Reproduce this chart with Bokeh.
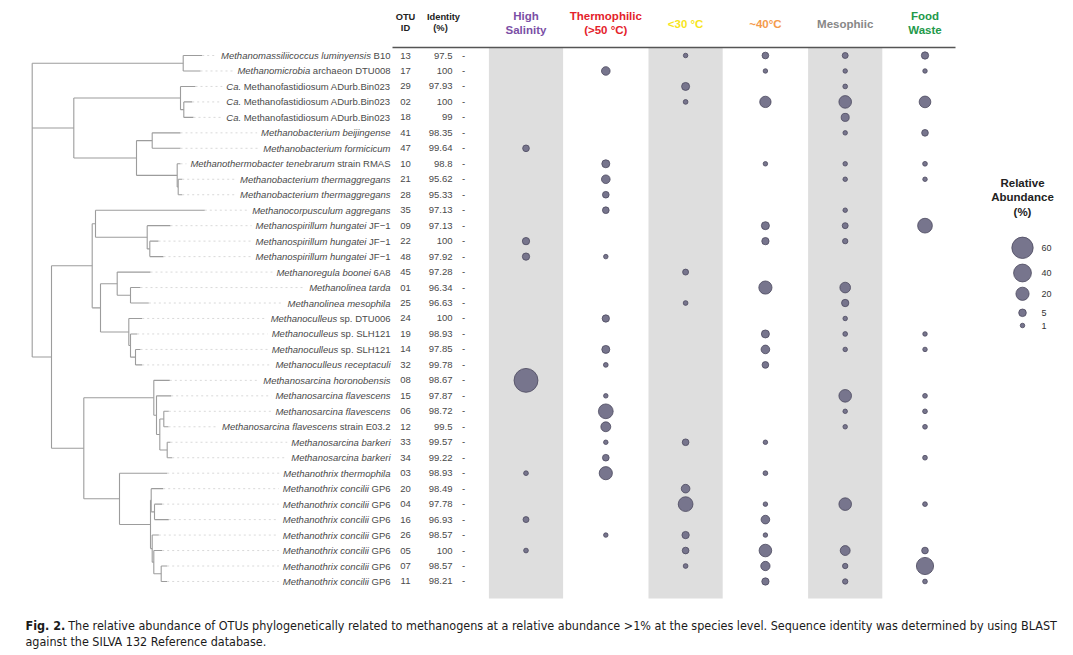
import math
from bokeh.plotting import figure
from bokeh.models import Range1d
from bokeh.core.properties import value
from bokeh.embed import file_html
from bokeh.resources import INLINE

# ---------------- data ----------------
taxon_italic = [
    "Methanomassiliicoccus luminyensis", "Methanomicrobia", "Ca.", "Ca.", "Ca.",
    "Methanobacterium beijingense", "Methanobacterium formicicum", "Methanothermobacter tenebrarum",
    "Methanobacterium thermaggregans", "Methanobacterium thermaggregans", "Methanocorpusculum aggregans",
    "Methanospirillum hungatei", "Methanospirillum hungatei", "Methanospirillum hungatei",
    "Methanoregula boonei", "Methanolinea tarda", "Methanolinea mesophila", "Methanoculleus",
    "Methanoculleus", "Methanoculleus", "Methanoculleus receptaculi", "Methanosarcina horonobensis",
    "Methanosarcina flavescens", "Methanosarcina flavescens", "Methanosarcina flavescens",
    "Methanosarcina barkeri", "Methanosarcina barkeri", "Methanothrix thermophila",
    "Methanothrix concilii", "Methanothrix concilii", "Methanothrix concilii", "Methanothrix concilii",
    "Methanothrix concilii", "Methanothrix concilii", "Methanothrix concilii"]
taxon_suffix = [
    "B10", "archaeon DTU008", "Methanofastidiosum ADurb.Bin023", "Methanofastidiosum ADurb.Bin023",
    "Methanofastidiosum ADurb.Bin023", "", "", "strain RMAS", "", "", "", "JF\u22121", "JF\u22121", "JF\u22121",
    "6A8", "", "", "sp. DTU006", "sp. SLH121", "sp. SLH121", "", "", "", "", "strain E03.2", "", "", "",
    "GP6", "GP6", "GP6", "GP6", "GP6", "GP6", "GP6"]
otu_ids = ["13", "17", "29", "02", "18", "41", "47", "10", "21", "28", "35", "09", "22", "48", "45", "01",
           "25", "24", "19", "14", "32", "08", "15", "06", "12", "33", "34", "03", "20", "04", "16", "26",
           "05", "07", "11"]
identity = ["97.5", "100", "97.93", "100", "99", "98.35", "99.64", "98.8", "95.62", "95.33", "97.13",
            "97.13", "100", "97.92", "97.28", "96.34", "96.63", "100", "98.93", "97.85", "99.78", "98.67",
            "97.87", "98.72", "99.5", "99.57", "99.22", "98.93", "98.49", "97.78", "96.93", "98.57", "100",
            "98.57", "98.21"]

condition_lines = [["High", "Salinity"], ["Thermophilic", "(>50 \u00b0C)"], ["<30 \u00b0C"], ["~40\u00b0C"],
                   ["Mesophiic"], ["Food", "Waste"]]

# relative abundance (%) per OTU row, 0 = not detected
abund_high_salinity = [0, 0, 0, 0, 0, 0, 3.5, 0, 0, 0, 0, 0, 4.5, 4.5, 0, 0, 0, 0, 0, 0, 0, 77,
                       0, 0, 0, 0, 0, 1.2, 0, 0, 2.5, 0, 1.2, 0, 0]
abund_thermophilic = [0, 7, 0, 0, 0, 0, 0, 5.8, 7, 3.5, 3.5, 0, 0, 1, 0, 0, 0, 4.5, 0, 5.8, 1.2, 0,
                      1, 26, 10, 1, 3.5, 20, 0, 0, 0, 1, 0, 0, 0]
abund_below30 = [1, 0, 5.8, 1.2, 0, 0, 0, 0, 0, 0, 0, 0, 0, 0, 2.5, 0, 1.2, 0, 0, 0, 0, 0,
                 0, 0, 0, 3.5, 0, 0, 7, 26, 0, 4.5, 3.5, 1.2, 0]
abund_around40 = [3.5, 1, 0, 14, 0, 0, 0, 1, 0, 0, 0, 5.8, 4.5, 0, 0, 20, 0, 0, 5.8, 7, 3.5, 0,
                  0, 0, 0, 1, 0, 1.2, 0, 1, 7, 1, 18, 8.5, 4.5]
abund_mesophilic = [2.5, 1, 1.2, 18, 5.8, 1, 0, 1, 1, 0, 1, 2.5, 1.8, 0, 0, 12, 4.5, 1, 1.2, 1, 0, 0,
                    18, 1, 1, 0, 0, 0, 0, 18, 0, 0, 10, 1.8, 1.8]
abund_food_waste = [4.5, 1, 0, 15, 0, 3.5, 0, 1.2, 1, 0, 0, 26, 0, 0, 0, 0, 0, 0, 1, 1, 0, 0,
                    1.2, 1.2, 1.2, 0, 1.2, 0, 0, 1.2, 0, 0, 3.5, 37, 1.2]
abundance_table = [abund_high_salinity, abund_thermophilic, abund_below30, abund_around40,
                   abund_mesophilic, abund_food_waste]

legend_values = [60, 40, 20, 5, 1]

# dendrogram: branch tip depth of each leaf, and internal nodes (depth, children)
leaf_tip = [201.7, 200, 195, 191.7, 193, 180, 180, 180, 181.7, 181.7, 204.3, 170, 158, 163, 150, 140,
            148.3, 141.7, 136.7, 140, 141.7, 169.3, 170.7, 168.3, 168, 170, 171.7, 166.7, 162.7, 161.7,
            168.3, 158.3, 161.7, 166.7, 166.7]
node_names = ["root", "A", "B", "B1", "B1a", "B2", "B2a", "B2b", "B2c", "C", "C1", "C1a", "C1a1", "C1a2",
              "C1b", "C1b1", "C1b1a", "C1b2", "C1b2a", "C1b2b", "C2", "C2a", "C2a1", "C2a2", "C2a3", "C2a4",
              "C2b", "C2b1", "Q", "Q1", "R", "R1", "R2"]
node_depth = [31.7, 182.7, 73.3, 180, 183.3, 136, 151.7, 176.7, 177.7, 51, 91.7, 95, 146.7, 149.3, 100,
              116.7, 130, 128.3, 130, 135, 83.3, 153.3, 156, 159.3, 163.3, 166.7, 119, 150, 150.7, 154,
              151.7, 153.3, 160.7]
node_children = [["A", "B", "C"], [0, 1], ["B1", "B2"], [2, "B1a"], [3, 4], ["B2a", "B2b"], [5, 6],
                 [7, "B2c"], [8, 9], ["C1", "C2"], ["C1a", "C1b"], [10, "C1a1"], [11, "C1a2"], [12, 13],
                 ["C1b1", "C1b2"], [14, "C1b1a"], [15, 16], [17, "C1b2a"], [18, "C1b2b"], [19, 20],
                 ["C2a", "C2b"], [21, "C2a1"], [22, "C2a2"], ["C2a3", "C2a4"], [23, 24], [25, 26],
                 [27, "C2b1"], ["Q", "R"], [28, "Q1"], [29, 30], [31, "R1"], [32, "R2"], [33, 34]]

caption_bold = "Fig. 2."
caption_line1 = ("The relative abundance of OTUs phylogenetically related to methanogens at a relative "
                 "abundance >1% at the species level. Sequence identity was determined by using BLAST")
caption_line2 = "against the SILVA 132 Reference database."

# ---------------- helpers ----------------
W = {' ': 278, '.': 278, '-': 333, '\u2212': 584, ',': 278, '%': 889, '>': 584, '(': 333, ')': 333,
     'A': 667, 'B': 667, 'C': 722, 'D': 722, 'E': 667, 'F': 611, 'G': 778, 'H': 722, 'I': 278, 'J': 500,
     'K': 667, 'L': 556, 'M': 833, 'N': 722, 'O': 778, 'P': 667, 'Q': 778, 'R': 722, 'S': 667, 'T': 611,
     'U': 722, 'V': 667, 'W': 944, 'X': 667, 'Y': 667, 'Z': 611,
     'a': 556, 'b': 556, 'c': 500, 'd': 556, 'e': 556, 'f': 278, 'g': 556, 'h': 556, 'i': 222, 'j': 222,
     'k': 500, 'l': 222, 'm': 833, 'n': 556, 'o': 556, 'p': 556, 'q': 556, 'r': 333, 's': 500, 't': 278,
     'u': 556, 'v': 500, 'w': 722, 'x': 500, 'y': 500, 'z': 500}


def text_w(s, fs):
    return sum(W.get(c, 556) for c in s) * fs / 1000.0


n_rows = len(otu_ids)
FIG_W, FIG_H = 1073, 655
ROW0_PX, ROW_STEP = 55.0, 15.47
COL0_PX, COL_STEP = 525.5, 79.8

p = figure(width=FIG_W, height=FIG_H, output_backend="svg", toolbar_location=None,
           x_range=Range1d(0, FIG_W),
           y_range=Range1d((FIG_H - ROW0_PX) / ROW_STEP, (0 - ROW0_PX) / ROW_STEP),
           x_axis_location=None, y_axis_location=None, min_border=0)
p.grid.visible = False
p.outline_line_color = None
p.background_fill_color = "white"
p.extra_x_ranges = {"cond": Range1d((0 - COL0_PX) / COL_STEP, (FIG_W - COL0_PX) / COL_STEP)}
p.extra_y_ranges = {"px": Range1d(FIG_H, 0)}

FONT = value("Liberation Sans")
LABEL_FS = 9.5
label_color = "#4a4a4a"

# grey background bands for alternate conditions
band_idx = [i for i in range(len(condition_lines)) if i % 2 == 0]
p.quad(left=[i - 0.465 for i in band_idx], right=[i + 0.465 for i in band_idx],
       top=[47] * len(band_idx), bottom=[598] * len(band_idx),
       x_range_name="cond", y_range_name="px", fill_color="#dedede", line_color=None)

# ---- dendrogram ----
idx = {n: k for k, n in enumerate(node_names)}
node_y = {}


def y_of(c):
    if isinstance(c, int):
        return float(c)
    if c in node_y:
        return node_y[c]
    ys = [y_of(ch) for ch in node_children[idx[c]]]
    node_y[c] = (ys[0] + ys[-1]) / 2.0
    return node_y[c]


x0s, y0s, x1s, y1s = [], [], [], []
for n in node_names:
    k = idx[n]
    ch = node_children[k]
    ys = [y_of(c) for c in ch]
    x0s.append(node_depth[k]); y0s.append(min(ys)); x1s.append(node_depth[k]); y1s.append(max(ys))
    for c, yy in zip(ch, ys):
        end = leaf_tip[c] if isinstance(c, int) else node_depth[idx[c]]
        x0s.append(node_depth[k]); y0s.append(yy); x1s.append(end); y1s.append(yy)
p.segment(x0s, y0s, x1s, y1s, line_color="#9c9c9c", line_width=1.1)

# ---- labels ----
LABEL_RIGHT = 390
it_x, dot_x1 = [], []
for it, sf in zip(taxon_italic, taxon_suffix):
    it_x.append(LABEL_RIGHT - text_w(" " + sf, LABEL_FS) if sf else LABEL_RIGHT)
    full = it + (" " + sf if sf else "")
    dot_x1.append(LABEL_RIGHT - text_w(full, LABEL_FS) - 4)
rows = list(range(n_rows))
p.segment(leaf_tip, rows, dot_x1, rows, line_color="#cfcfcf", line_width=0.8, line_dash="2 3")

p.text(it_x, rows, taxon_italic, text_align="right", text_baseline="middle", text_font=FONT,
       text_font_size=f"{LABEL_FS}px", text_font_style="italic", text_color=label_color)
suf_rows = [r for r in rows if taxon_suffix[r]]
p.text([LABEL_RIGHT] * len(suf_rows), suf_rows, [taxon_suffix[r] for r in suf_rows], text_align="right",
       text_baseline="middle", text_font=FONT, text_font_size=f"{LABEL_FS}px", text_color=label_color)
p.text([405] * n_rows, rows, otu_ids, text_align="center", text_baseline="middle", text_font=FONT,
       text_font_size=f"{LABEL_FS}px", text_color=label_color)
p.text([452] * n_rows, rows, identity, text_align="right", text_baseline="middle", text_font=FONT,
       text_font_size=f"{LABEL_FS}px", text_color=label_color)
p.text([463] * n_rows, rows, ["-"] * n_rows, text_align="center", text_baseline="middle", text_font=FONT,
       text_font_size=f"{LABEL_FS}px", text_color="#333333")

# ---- headers ----
p.segment([392], [47], [955], [47], y_range_name="px", line_color="#555555", line_width=1.5)
p.text([405, 405], [16, 27.5], ["OTU", "ID"], y_range_name="px", text_align="center",
       text_baseline="middle", text_font=FONT, text_font_size="9.3px", text_font_style="bold",
       text_color="#222222")
p.text([443, 440], [16, 27.5], ["Identity", "(%)"], y_range_name="px", text_align="center",
       text_baseline="middle", text_font=FONT, text_font_size="9.3px", text_font_style="bold",
       text_color="#222222")

head_colors = ["#7b4fa6", "#e4222b", "#f7e51b", "#f49a4c", "#878787", "#23994a"]
hx, hy, ht, hc = [], [], [], []
for i, lines in enumerate(condition_lines):
    ys = [23.3] if len(lines) == 1 else [15.3, 29.3]
    for t, yy in zip(lines, ys):
        hx.append(i); hy.append(yy); ht.append(t); hc.append(head_colors[i])
p.text(hx, hy, ht, x_range_name="cond", y_range_name="px", text_align="center", text_baseline="middle",
       text_font=FONT, text_font_size="11.5px", text_font_style="bold", text_color=hc)

# ---- bubbles ----
def bubble_d(v):
    return 2.0 + 2.5 * math.sqrt(v)


bx, by, bs = [], [], []
for i, col in enumerate(abundance_table):
    for r, v in enumerate(col):
        if v > 0:
            bx.append(i); by.append(r); bs.append(bubble_d(v))
p.scatter(bx, by, size=bs, x_range_name="cond", fill_color="#77758d", line_color="#4b495e",
          line_width=0.8)

# ---- legend ----
p.text([1022] * 3, [182, 196.5, 211], ["Relative", "Abundance", "(%)"], y_range_name="px",
       text_align="center", text_baseline="middle", text_font=FONT, text_font_size="11.5px",
       text_font_style="bold", text_color="#222222")
leg_y = [247.3, 272.5, 293.3, 312.3, 325]
p.scatter([1022] * len(legend_values), leg_y, size=[bubble_d(v) for v in legend_values],
          y_range_name="px", fill_color="#77758d", line_color="#4b495e", line_width=0.8)
p.text([1041] * len(legend_values), leg_y, [str(v) for v in legend_values], y_range_name="px",
       text_align="left", text_baseline="middle", text_font=FONT, text_font_size="9px",
       text_color="#333333")

# ---- caption ----
CAP_FONT = value("DejaVu Sans Condensed, Liberation Sans")
cap_fs = 984.0 / text_w(caption_line1, 1.0) * 0.985
bold_w = (611 + 278 + 611 + 278 + 278 + 556 + 278) / 1000.0 * cap_fs * 1.08
p.text([25], [625], [caption_bold], y_range_name="px", text_align="left", text_baseline="middle",
       text_font=CAP_FONT, text_font_size=f"{cap_fs:.2f}px", text_font_style="bold", text_color="#1a1a1a")
p.text([25 + bold_w + 0.3 * cap_fs], [625], [caption_line1], y_range_name="px",
       text_align="left", text_baseline="middle", text_font=CAP_FONT, text_font_size=f"{cap_fs:.2f}px",
       text_color="#1a1a1a")
p.text([25], [641], [caption_line2], y_range_name="px", text_align="left", text_baseline="middle",
       text_font=CAP_FONT, text_font_size=f"{cap_fs:.2f}px", text_color="#1a1a1a")

open("out.html", "w").write(file_html(p, INLINE))
